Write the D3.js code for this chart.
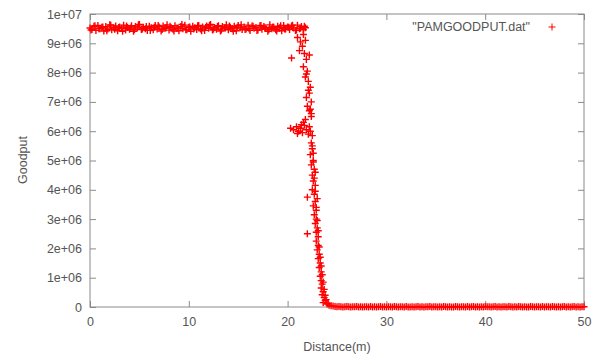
<!DOCTYPE html>
<html>
<head>
<meta charset="utf-8">
<script src="https://cdn.jsdelivr.net/npm/d3@7"></script>
<style>
  body { margin: 0; background: #fff; }
  text { font-family: "Liberation Sans", Arial, sans-serif; }
</style>
</head>
<body>
<svg id="chart" width="598" height="356"></svg>
<script>
// goodput values are in units of 1e6
const plateauDist = [
  0,0.2,0.4,0.6,0.8,1,1.2,1.4,1.6,1.8,
  2,2.2,2.4,2.6,2.8,3,3.2,3.4,3.6,3.8,
  4,4.2,4.4,4.6,4.8,5,5.2,5.4,5.6,5.8,
  6,6.2,6.4,6.6,6.8,7,7.2,7.4,7.6,7.8,
  8,8.2,8.4,8.6,8.8,9,9.2,9.4,9.6,9.8,
  10,10.2,10.4,10.6,10.8,11,11.2,11.4,11.6,11.8,
  12,12.2,12.4,12.6,12.8,13,13.2,13.4,13.6,13.8,
  14,14.2,14.4,14.6,14.8,15,15.2,15.4,15.6,15.8,
  16,16.2,16.4,16.6,16.8,17,17.2,17.4,17.6,17.8,
  18,18.2,18.4,18.6,18.8,19,19.2,19.4,19.6,19.8,
  20,20.2,20.4,20.6,20.8,21,21.2,21.4,21.6,21.8
]
const plateauGoodput = [
  9.52,9.47,9.58,9.44,9.61,9.50,9.55,9.42,9.57,9.49,
  9.63,9.46,9.53,9.59,9.43,9.56,9.51,9.62,9.45,9.54,
  9.48,9.60,9.41,9.57,9.52,9.64,9.47,9.55,9.50,9.44,
  9.58,9.53,9.46,9.61,9.49,9.56,9.42,9.59,9.51,9.63,
  9.45,9.54,9.48,9.60,9.52,9.43,9.57,9.50,9.62,9.46,
  9.55,9.41,9.58,9.53,9.47,9.61,9.49,9.56,9.44,9.59,
  9.51,9.64,9.45,9.54,9.48,9.60,9.42,9.57,9.52,9.63,
  9.46,9.55,9.50,9.58,9.43,9.61,9.53,9.47,9.56,9.49,
  9.62,9.44,9.59,9.51,9.54,9.45,9.60,9.48,9.57,9.52,
  9.41,9.63,9.50,9.55,9.46,9.58,9.53,9.43,9.61,9.49,
  9.56,9.47,9.59,9.52,9.44,9.62,9.50,9.57,9.46,9.53
]
// a second pass over the plateau, offset by 0.1 m
const plateauDist2 = [
  0.1,0.5,0.9,1.3,1.7,2.1,2.5,2.9,3.3,3.7,
  4.1,4.5,4.9,5.3,5.7,6.1,6.5,6.9,7.3,7.7,
  8.1,8.5,8.9,9.3,9.7,10.1,10.5,10.9,11.3,11.7,
  12.1,12.5,12.9,13.3,13.7,14.1,14.5,14.9,15.3,15.7,
  16.1,16.5,16.9,17.3,17.7,18.1,18.5,18.9,19.3,19.7,
  20.1,20.5,20.9,21.3,21.7
]
const plateauGoodput2 = [
  9.45,9.60,9.50,9.56,9.43,9.62,9.48,9.54,9.41,9.59,
  9.52,9.46,9.63,9.49,9.57,9.44,9.55,9.61,9.47,9.53,
  9.58,9.42,9.51,9.64,9.46,9.56,9.49,9.60,9.43,9.54,
  9.62,9.48,9.57,9.45,9.52,9.59,9.41,9.55,9.63,9.47,
  9.50,9.58,9.44,9.61,9.53,9.46,9.56,9.42,9.60,9.49,
  9.55,9.62,9.45,9.51,9.58
]

const dropDist = [
  21.0,21.3,21.6,21.8,21.5,21.2,20.4,21.7,21.9,21.6,
  22.0,21.8,22.1,22.3,22.2,21.9,22.4,22.0,22.2,22.4,
  21.8,20.3,20.6,20.9,21.1,21.3,21.5,21.7,21.9,22.1,
  22.3,22.5,21.0,21.6,22.2,21.4,22.4,22.5,22.3,22.6,
  22.4,22.7,22.5,22.6,22.8,22.5,22.7,22.0,22.8,22.6,
  22.9,22.7,22.9,22.8,23.0,22.0,22.9,23.1,22.9,23.1,
  23.0,23.2,23.1,23.3,23.2,23.4,23.3,23.4,23.5,23.4,
  23.6,23.5,23.7,23.8,23.6,24.0,24.2,
  21.9,22.1,22.3,22.5,22.6,22.7,22.8,22.9,23.0,23.1,
  23.2,23.3,23.4,23.5,23.6,23.7,23.8,23.9,24.1,22.2,
  22.4,22.6,22.8,23.0
]
const dropGoodput = [
  9.20,9.05,9.30,9.10,8.90,8.75,8.50,8.65,8.45,8.20,
  8.05,7.85,7.70,7.50,7.30,7.15,7.00,6.85,6.70,6.50,
  6.40,6.10,6.05,6.15,6.00,6.10,5.95,6.20,6.05,5.90,
  6.00,5.85,5.92,6.30,6.15,6.22,5.60,5.40,5.20,5.00,
  4.85,4.70,4.50,4.30,4.15,4.00,3.85,3.75,3.60,3.45,
  3.30,3.15,3.00,2.85,2.70,2.50,2.55,2.40,2.25,2.10,
  1.95,1.80,1.65,1.50,1.35,1.20,1.05,0.90,0.78,0.65,
  0.52,0.42,0.32,0.22,0.15,0.10,0.06,
  7.95,7.40,6.75,5.50,4.95,4.40,3.95,3.40,2.95,2.60,
  2.05,1.70,1.40,1.10,0.85,0.60,0.40,0.25,0.12,8.60,
  6.60,5.25,4.60,3.70
]

const tailDist = [
  24.4,24.6,24.8,25,25.2,25.4,25.6,25.8,26,26.2,
  26.4,26.6,26.8,27,27.2,27.4,27.6,27.8,28,28.2,
  28.4,28.6,28.8,29,29.2,29.4,29.6,29.8,30,30.2,
  30.4,30.6,30.8,31,31.2,31.4,31.6,31.8,32,32.2,
  32.4,32.6,32.8,33,33.2,33.4,33.6,33.8,34,34.2,
  34.4,34.6,34.8,35,35.2,35.4,35.6,35.8,36,36.2,
  36.4,36.6,36.8,37,37.2,37.4,37.6,37.8,38,38.2,
  38.4,38.6,38.8,39,39.2,39.4,39.6,39.8,40,40.2,
  40.4,40.6,40.8,41,41.2,41.4,41.6,41.8,42,42.2,
  42.4,42.6,42.8,43,43.2,43.4,43.6,43.8,44,44.2,
  44.4,44.6,44.8,45,45.2,45.4,45.6,45.8,46,46.2,
  46.4,46.6,46.8,47,47.2,47.4,47.6,47.8,48,48.2,
  48.4,48.6,48.8,49,49.2,49.4,49.6,49.8,50
]
const tailGoodput = [
  0.04,0.03,0.02,0.01,0.02,0.01,0.00,0.01,0.02,0.01,
  0.00,0.01,0.01,0.02,0.00,0.01,0.00,0.01,0.01,0.00,
  0.02,0.00,0.01,0.00,0.01,0.02,0.00,0.01,0.00,0.01,
  0.01,0.00,0.02,0.01,0.00,0.01,0.01,0.00,0.02,0.00,
  0.00,0.01,0.00,0.01,0.02,0.00,0.01,0.00,0.01,0.01,
  0.02,0.00,0.01,0.01,0.00,0.01,0.00,0.02,0.01,0.00,
  0.01,0.00,0.00,0.02,0.01,0.00,0.01,0.01,0.00,0.02,
  0.00,0.01,0.02,0.00,0.01,0.00,0.01,0.00,0.02,0.01,
  0.01,0.00,0.01,0.02,0.00,0.01,0.00,0.01,0.01,0.00,
  0.02,0.01,0.00,0.01,0.00,0.02,0.01,0.00,0.01,0.00,
  0.00,0.02,0.01,0.00,0.01,0.01,0.00,0.02,0.00,0.01,
  0.01,0.00,0.02,0.01,0.00,0.01,0.00,0.01,0.02,0.00,
  0.01,0.00,0.01,0.02,0.00,0.01,0.00,0.01,0.01
]

const xTicks = [0,10,20,30,40,50]
const yTicks = [0,1e6,2e6,3e6,4e6,5e6,6e6,7e6,8e6,9e6,1e7]
const yTickLabels = ["0","1e+06","2e+06","3e+06","4e+06","5e+06","6e+06","7e+06","8e+06","9e+06","1e+07"]

const seriesName = '"PAMGOODPUT.dat"'

let m = {left:90, right:584, top:14, bottom:307}
let svg = d3.select('#chart')

let x = d3.scaleLinear().domain([0,50]).range([m.left,m.right])
let y = d3.scaleLinear().domain([0,1e7]).range([m.bottom,m.top])

function pairs(xs, ys){
  return xs.map((d,i)=>({d:d, g:ys[i]*1e6}))
}
let points = pairs(plateauDist,plateauGoodput)
  .concat(pairs(plateauDist2,plateauGoodput2))
  .concat(pairs(dropDist,dropGoodput))
  .concat(pairs(tailDist,tailGoodput))

let tickColor = '#8a8a8a'
let textColor = '#555'
let red = '#f00'
let fontSize = '12.5px'

// axes, ticks pointing inward like gnuplot
let yLabel = d => yTickLabels[yTicks.indexOf(d)]
let axes = [
  svg.append('g').attr('transform',`translate(${m.left},0)`)
    .call(d3.axisLeft(y).tickValues(yTicks).tickFormat(yLabel).tickSizeInner(-6).tickSizeOuter(0).tickPadding(8)),
  svg.append('g').attr('transform',`translate(${m.right},0)`)
    .call(d3.axisRight(y).tickValues(yTicks).tickFormat('').tickSizeInner(-6).tickSizeOuter(0)),
  svg.append('g').attr('transform',`translate(0,${m.bottom})`)
    .call(d3.axisBottom(x).tickValues(xTicks).tickFormat(d3.format('d')).tickSizeInner(-6).tickSizeOuter(0).tickPadding(10)),
  svg.append('g').attr('transform',`translate(0,${m.top})`)
    .call(d3.axisTop(x).tickValues(xTicks).tickFormat('').tickSizeInner(-6).tickSizeOuter(0))
]
axes.forEach(a => {
  a.select('.domain').remove()
  a.selectAll('line').attr('stroke',tickColor)
  a.selectAll('text').attr('fill',textColor).style('font-size',fontSize)
})

svg.append('rect')
  .attr('x',m.left).attr('y',m.top)
  .attr('width',m.right-m.left).attr('height',m.bottom-m.top)
  .attr('fill','none').attr('stroke',tickColor).attr('stroke-width',1)

let plus = 'M-3.5,0H3.5M0,-3.5V3.5'
svg.append('g')
  .attr('fill','none')
  .selectAll('path')
  .data(points)
  .enter().append('path')
  .attr('transform',p=>`translate(${x(p.d)},${y(p.g)})`)
  .attr('d',plus)
  .attr('stroke',red)
  .attr('stroke-width',1.4)

// legend
svg.append('text')
  .attr('x',530).attr('y',27).attr('dy','0.35em')
  .attr('text-anchor','end')
  .attr('fill',textColor)
  .style('font-size',fontSize)
  .text(seriesName)
svg.append('path')
  .attr('transform','translate(552,27)')
  .attr('d',plus)
  .attr('stroke',red)
  .attr('fill','none')

// axis titles
svg.append('text')
  .attr('transform','translate(23,160) rotate(-90)')
  .attr('text-anchor','middle')
  .attr('dy','0.35em')
  .attr('fill',textColor)
  .style('font-size',fontSize)
  .text('Goodput')
svg.append('text')
  .attr('x',337).attr('y',347)
  .attr('text-anchor','middle')
  .attr('dy','0.35em')
  .attr('fill',textColor)
  .style('font-size',fontSize)
  .text('Distance(m)')
</script>
</body>
</html>
